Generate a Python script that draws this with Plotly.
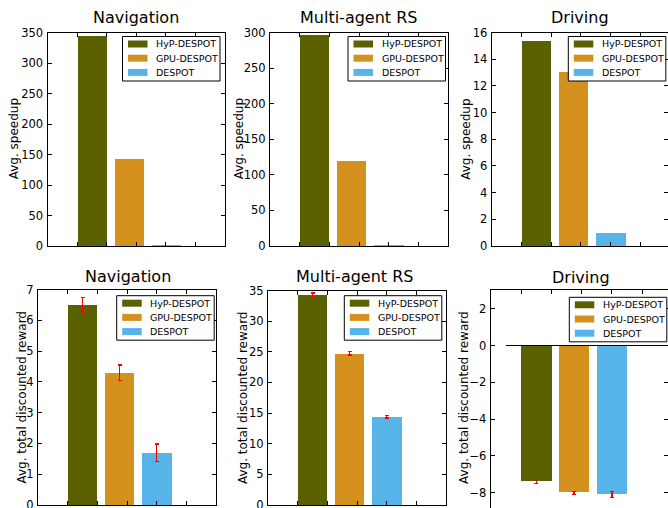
import plotly.graph_objects as go

W, H = 668, 508

methods = ["HyP-DESPOT", "GPU-DESPOT", "DESPOT"]
colors = ["#5b6000", "#d4911e", "#56b4e9"]
domains = ["Navigation", "Multi-agent RS", "Driving"]

speedup_nav = [345, 143, 1]
speedup_mars = [297, 120, 1]
speedup_drv = [15.4, 13.1, 1]

reward_nav = [6.5, 4.3, 1.7]
reward_nav_err = [0.25, 0.25, 0.28]
reward_mars = [34.3, 24.8, 14.4]
reward_mars_err = [0.3, 0.3, 0.2]
reward_drv = [-7.4, -8.0, -8.1]
reward_drv_err = [0.1, 0.08, 0.18]

bar_pos = [1.5, 2.75, 4.0]
bar_width = 1.0

# panel layout in pixels
panels = [
    dict(px=(47.5, 225), py=(32.5, 246), xr=[0, 6], yr=[0, 350], dt=50,
         vals=speedup_nav, err=None, title=domains[0], ytitle="Avg. speedup", ytx=14,
         leg=(122.5, 36.5), tty=17, tcx=136),
    dict(px=(270, 448), py=(32.5, 246), xr=[0, 6], yr=[0, 300], dt=50,
         vals=speedup_mars, err=None, title=domains[1], ytitle="Avg. speedup", ytx=239,
         leg=(348, 36.5), tty=17, tcx=358.5),
    dict(px=(491.7, 668), py=(32.5, 246), xr=[0, 6 * (668 - 491.7) / 178], yr=[0, 16], dt=2,
         vals=speedup_drv, err=None, title=domains[2], ytitle="Avg. speedup", ytx=466.5,
         leg=(568.3, 36.5), tty=17, tcx=579.5),
    dict(px=(38, 216), py=(289.5, 505), xr=[0, 6], yr=[0, 7], dt=1,
         vals=reward_nav, err=reward_nav_err, title=domains[0],
         ytitle="Avg. total discounted reward", ytx=22.3, leg=(116.7, 295.7), tty=276,
         tcx=127.5),
    dict(px=(268, 446), py=(290.5, 505), xr=[0, 6], yr=[0, 35], dt=5,
         vals=reward_mars, err=reward_mars_err, title=domains[1],
         ytitle="Avg. total discounted reward", ytx=242.3, leg=(344.3, 295.7), tty=276,
         tcx=354.5),
    dict(px=(490.7, 668), py=(290.3, 508), xr=[0, (668 - 490.7) / 30.3],
         yr=[-(508 - 345.5) / 18.4, 3], dt=2,
         vals=reward_drv, err=reward_drv_err, title=domains[2],
         ytitle="Avg. total discounted reward", ytx=463.3, leg=(569.3, 297.3), tty=277,
         tcx=581),
]

FONT = "DejaVu Sans"

def fx(px):
    return px / W

def fy(py):
    return 1 - py / H

fig = go.Figure()
annotations = []
shapes = []
layout = {}
extra_axis = 7

for i, p in enumerate(panels):
    n = "" if i == 0 else str(i + 1)
    xa, ya = "x" + n, "y" + n
    right_col = i in (2, 5)
    for k in range(3):
        tr = go.Bar(
            x=[bar_pos[k]], y=[p["vals"][k]], width=bar_width,
            marker=dict(color=colors[k], line=dict(width=0)),
            xaxis=xa, yaxis=ya, showlegend=False, name=methods[k],
        )
        if p["err"] is not None:
            tr.error_y = dict(type="data", array=[p["err"][k]], color="red",
                              thickness=1.3, width=2)
        fig.add_trace(tr)
    axstyle = dict(showgrid=False, zeroline=False, showline=True, linecolor="black",
                   linewidth=1, ticks="inside", ticklen=4,
                   tickcolor="black", tickwidth=1, automargin=False)
    xdict = dict(domain=[fx(p["px"][0]), fx(p["px"][1])], range=p["xr"], anchor=ya,
                 tick0=0, dtick=1, showticklabels=False, **axstyle)
    if i == 5:
        xdict.update(side="top", mirror=False)
    else:
        xdict.update(mirror="ticks")
    layout["xaxis" + n] = xdict
    layout["yaxis" + n] = dict(
        domain=[fy(p["py"][1]), fy(p["py"][0])], range=p["yr"], anchor=xa,
        tick0=0, dtick=p["dt"], tickfont=dict(family=FONT, size=11.5, color="black"),
        ticklabelstandoff=1, ticklabeloverflow="allow",
        mirror=False if right_col else "ticks", **axstyle)
    if right_col:
        # right-hand tick marks only (the right spine lies outside the picture)
        yn = "yaxis" + str(extra_axis)
        layout[yn] = dict(overlaying=ya, side="right", anchor=xa, range=p["yr"],
                          tick0=0, dtick=p["dt"], ticks="inside", ticklen=4,
                          tickcolor="black", tickwidth=1, showline=False,
                          showgrid=False, zeroline=False, showticklabels=False,
                          automargin=False)
        fig.add_trace(go.Scatter(x=[], y=[], xaxis=xa, yaxis="y" + str(extra_axis),
                                 showlegend=False, hoverinfo="skip"))
        extra_axis += 1
    annotations.append(dict(text=p["title"], x=fx(p["tcx"]), y=fy(p["tty"]), xref="paper",
                            yref="paper", showarrow=False, xanchor="center",
                            yanchor="middle", font=dict(family=FONT, size=16, color="black")))
    annotations.append(dict(text=p["ytitle"], x=fx(p["ytx"]),
                            y=fy((p["py"][0] + min(p["py"][1], 505)) / 2), xref="paper",
                            yref="paper", showarrow=False, textangle=-90,
                            xanchor="center", yanchor="middle",
                            font=dict(family=FONT, size=12, color="black")))
    # legend box
    lx, ly = p["leg"]
    shapes.append(dict(type="rect", xref="paper", yref="paper",
                       x0=fx(lx), x1=fx(lx + 97.5), y0=fy(ly), y1=fy(ly + 44.5),
                       line=dict(color="black", width=1), fillcolor="white", layer="above"))
    for k in range(3):
        cy = ly + 7.5 + 14.2 * k
        shapes.append(dict(type="rect", xref="paper", yref="paper",
                           x0=fx(lx + 5.5), x1=fx(lx + 25), y0=fy(cy - 3.5), y1=fy(cy + 3.5),
                           line=dict(width=0), fillcolor=colors[k], layer="above"))
        annotations.append(dict(text=methods[k], x=fx(lx + 31.5), y=fy(cy), xref="paper",
                                yref="paper", showarrow=False, xanchor="left",
                                yanchor="middle",
                                font=dict(family=FONT, size=9.5, color="black")))

# zero reference line in the driving reward panel
shapes.append(dict(type="line", xref="x6", yref="y6", x0=0.5, x1=panels[5]["xr"][1],
                   y0=0, y1=0, line=dict(color="black", width=1)))

fig.update_layout(
    width=W, height=H, margin=dict(l=0, r=0, t=0, b=0, autoexpand=False),
    paper_bgcolor="white", plot_bgcolor="white", bargap=0,
    annotations=annotations, shapes=shapes, showlegend=False,
    font=dict(family=FONT), **layout,
)

fig.write_html("out.html")
